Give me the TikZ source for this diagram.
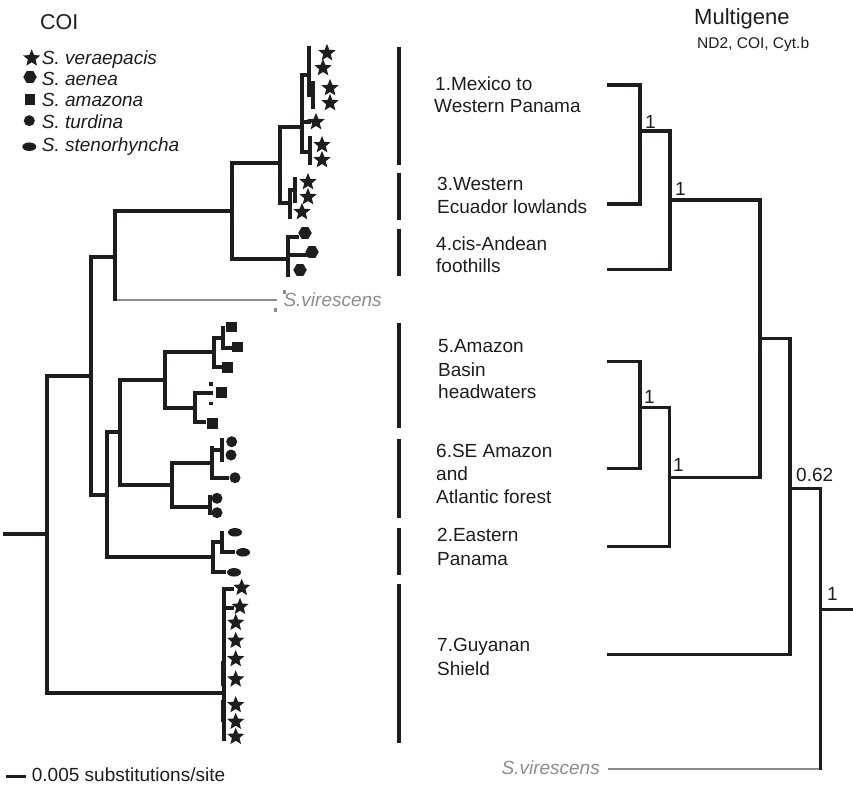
\documentclass[tikz,border=0pt]{standalone}
\usepackage{fontspec}
\setmainfont{Liberation Sans}
\usetikzlibrary{shapes.geometric}
\definecolor{ink}{RGB}{30,28,28}
\definecolor{grayln}{RGB}{140,140,140}
\begin{document}
\begin{tikzpicture}[x=1pt,y=-1pt,
  br/.style={line width=3.1pt, draw=ink, line cap=rect},
  gbr/.style={line width=2.8pt, draw=grayln},
  bar/.style={line width=4.6pt, draw=ink},
  sstar/.style={star, star points=5, star point ratio=2.25, fill=ink, inner sep=0pt, minimum size=18pt},
  shex/.style={regular polygon, regular polygon sides=6, fill=ink, inner sep=0pt, minimum size=13.5pt},
  ssq/.style={rectangle, fill=ink, inner sep=0pt, minimum size=10.5pt},
  scirc/.style={circle, fill=ink, inner sep=0pt, minimum size=11pt},
  sell/.style={ellipse, fill=ink, inner sep=0pt, minimum width=14pt, minimum height=8.5pt},
  dotm/.style={rectangle, fill=ink, inner sep=0pt, minimum size=3.5pt},
  txt/.style={text=ink, inner sep=0pt, anchor=base west, font=\fontsize{19}{23}\selectfont},
  itx/.style={txt, font=\fontsize{19}{23}\selectfont\itshape},
  gtx/.style={itx, text=grayln}]
\useasboundingbox (0,0) rectangle (853,784);

% ---------- titles and legend ----------
\node[txt, font=\fontsize{21.5}{25}\selectfont] (coi) at (40,30) {COI};
\node[txt, font=\fontsize{22}{26}\selectfont] (multi) at (694,25) {Multigene};
\node[txt, font=\fontsize{15.5}{18}\selectfont] (genes) at (697,48.3) {ND2, COI, Cyt.b};

\node[sstar] (lg1) at (31.7,58.3) {};
\node[shex]  (lg2) at (30,77) {};
\node[ssq]   (lg3) at (30,99.3) {};
\node[scirc] (lg4) at (29.3,120.7) {};
\node[sell]  (lg5) at (29.3,146.7) {};
\node[itx] (lt1) at (41.7,64) {S. veraepacis};
\node[itx] (lt2) at (41.7,85) {S. aenea};
\node[itx] (lt3) at (41.7,106.5) {S. amazona};
\node[itx] (lt4) at (41.7,128) {S. turdina};
\node[itx] (lt5) at (41.7,151.7) {S. stenorhyncha};

% ---------- COI tree ----------
\draw[br] (5,534) -- (47,534);
\draw[br] (47,376) -- (47,693);
\draw[br] (47,376) -- (91,376);
\draw[br] (47,693) -- (224,693);
\draw[br] (91,257) -- (91,495);
\draw[br] (91,257) -- (115,257);
\draw[br] (91,495) -- (107,495);
\draw[br] (115,211) -- (115,299);
\draw[br] (115,211) -- (232,211);
\draw[gbr] (116.5,300) -- (277,300);
\fill[grayln] (282.5,290) rectangle (285.5,293.5);
\fill[grayln] (273.5,308) rectangle (276.5,311.5);
\node[gtx] (vir1) at (283.3,306.5) {S.virescens};
\draw[br] (232,163) -- (232,259);
\draw[br] (232,163) -- (280,163);
\draw[br] (232,259) -- (288,259);
\draw[br] (280,127) -- (280,203);
\draw[br] (280,127) -- (302,127);
\draw[br] (280,203) -- (290,203);
\draw[br] (302,75) -- (302,152);
\draw[br] (302,75) -- (309,75);
\draw[br] (309,48) -- (309,95);
\draw[br] (309,95) -- (313,95);
\draw[br] (313,83) -- (313,107);
\draw[br] (302,122) -- (309,122);
\draw[br] (302,152) -- (310,152);
\draw[br] (310,138) -- (310,163);
\draw[br] (290,190) -- (290,217);
\draw[br] (290,190) -- (295,190);
\draw[br] (295,179) -- (295,201);
\draw[br] (288,237) -- (288,275);
\draw[br] (288,237) -- (297,237);
\draw[br] (288,255) -- (306,255);
\draw[br] (107,432) -- (107,557);
\draw[br] (107,432) -- (120,432);
\draw[br] (107,557) -- (213,557);
\draw[br] (120,380) -- (120,485);
\draw[br] (120,380) -- (165,380);
\draw[br] (120,485) -- (172,485);
\draw[br] (165,352) -- (165,408);
\draw[br] (165,352) -- (214,352);
\draw[br] (165,408) -- (195,408);
\draw[br] (214,338) -- (214,367);
\draw[br] (214,338) -- (223,338);
\draw[br] (223,328) -- (223,348);
\draw[br] (223,348) -- (230,348);
\draw[br] (214,367) -- (220,367);
\draw[br] (195,393) -- (195,422);
\draw[br] (195,393) -- (211,393);
\draw[br] (195,422) -- (204,422);
\draw[br] (172,463) -- (172,507);
\draw[br] (172,463) -- (212,463);
\draw[br] (172,507) -- (210,507);
\draw[br] (212,448) -- (212,478);
\draw[br] (212,450) -- (222,450);
\draw[br] (222,440) -- (222,460);
\draw[br] (212,478) -- (227,478);
\draw[br] (210,497) -- (210,513);
\draw[br] (213,542) -- (213,572);
\draw[br] (213,542) -- (222,542);
\draw[br] (222,533) -- (222,552);
\draw[br] (222,552) -- (233,552);
\draw[br] (213,572) -- (224,572);
\draw[br] (224,589) -- (224,739);
\draw[br] (224,589) -- (232,589);
\draw[br] (224,608) -- (232,608);
\draw[br] (222.5,663) -- (222.5,684);
\draw[br] (222.5,702) -- (222.5,720);

% tips
\foreach \p in {(327,53),(323,68),(330,88),(330,103),(316,122),(322,145),(322,160),
                (308,182),(308,197),(302,212),
                (241.7,587.7),(240,606.7),(235.7,622.7),(235.7,640.7),(235.7,659),(235.7,679.3),(235.7,705),(235.7,721.7),(235.7,736.7)}
  \node[sstar] at \p {};
\foreach \p in {(305,233),(312,252),(300,270)} \node[shex] at \p {};
\foreach \p in {(231.7,327),(237.7,347),(227.7,367.5),(221.7,392.7),(212.3,423.3)} \node[ssq] at \p {};
\foreach \p in {(211,384),(211,403.3)} \node[dotm] at \p {};
\foreach \p in {(231.7,441.7),(231,455),(235,477.7),(217,498.3),(217,512.7)} \node[scirc] at \p {};
\foreach \p in {(235,532.3),(243,552.3),(234,572.3)} \node[sell] at \p {};

% scale bar
\draw[line width=3pt, draw=ink] (6,776.7) -- (26,776.7);
\node[txt] (scale) at (31.7,781) {0.005 substitutions/site};

% ---------- region bars ----------
\draw[bar] (399,46.7) -- (399,165);
\draw[bar] (399,172.7) -- (399,220);
\draw[bar] (399,229.3) -- (399,276);
\draw[bar] (399,323.3) -- (399,428.3);
\draw[bar] (399,439.3) -- (399,518.3);
\draw[bar] (399,528.3) -- (399,575);
\draw[bar] (399,584) -- (399,743.3);

% ---------- region labels ----------
\node[txt] (r1a) at (435,90) {1.Mexico to};
\node[txt] (r1b) at (434,112.7) {Western Panama};
\node[txt] (r3a) at (437,190) {3.Western};
\node[txt] (r3b) at (437,213.3) {Ecuador lowlands};
\node[txt] (r4a) at (436,250) {4.cis-Andean};
\node[txt] (r4b) at (436,272.7) {foothills};
\node[txt] (r5a) at (438,352.3) {5.Amazon};
\node[txt] (r5b) at (438,376) {Basin};
\node[txt] (r5c) at (438,398.3) {headwaters};
\node[txt] (r6a) at (436,457.3) {6.SE Amazon};
\node[txt] (r6b) at (436,480) {and};
\node[txt] (r6c) at (436,503.3) {Atlantic forest};
\node[txt] (r2a) at (437,541.7) {2.Eastern};
\node[txt] (r2b) at (437,565) {Panama};
\node[txt] (r7a) at (437,651.7) {7.Guyanan};
\node[txt] (r7b) at (437,675) {Shield};

% ---------- multigene tree ----------
\draw[br] (608.3,85) -- (640,85) -- (640,204) -- (608.3,204);
\draw[br] (640,131) -- (670,131);
\draw[br] (670,131) -- (670,269.3) -- (608.3,269.3);
\draw[br] (670,200) -- (760,200) -- (760,476.7);
\draw[br] (760,338.3) -- (790,338.3);
\draw[br] (608.3,361.7) -- (640,361.7) -- (640,468.3) -- (608.3,468.3);
\draw[br] (640,407.3) -- (669.3,407.3) -- (669.3,546.7) -- (608.3,546.7);
\draw[br] (669.3,477.3) -- (760,477.3);
\draw[br] (790,338.3) -- (790,654.3) -- (608.3,654.3);
\draw[br] (790,488.3) -- (820.7,488.3) -- (820.7,768);
\draw[br] (820.7,609.3) -- (853,609.3);
\draw[gbr] (608.3,769) -- (819,769);
\node[gtx, anchor=base east] (vir2) at (600,774.5) {S.virescens};

\node[txt] (s1) at (645,128.3) {1};
\node[txt] (s2) at (675,195) {1};
\node[txt] (s3) at (644,403.3) {1};
\node[txt] (s4) at (673,471.7) {1};
\node[txt] (s5) at (796,481.7) {0.62};
\node[txt] (s6) at (827,600.7) {1};
\end{tikzpicture}
\end{document}
